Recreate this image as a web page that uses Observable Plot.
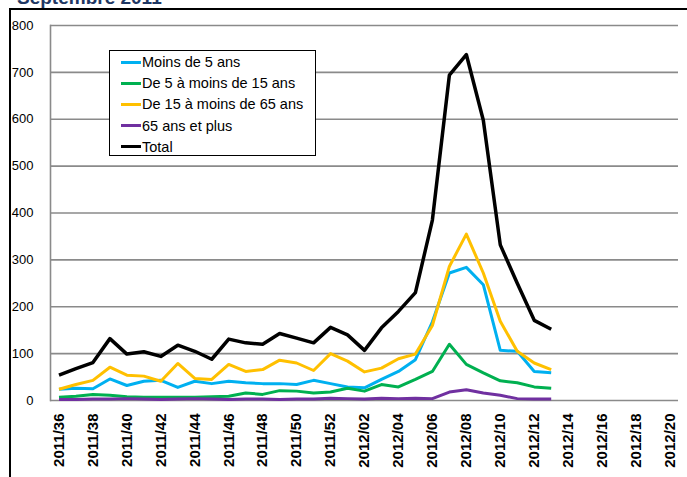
<!DOCTYPE html>
<html>
<head>
<meta charset="utf-8">
<script src="https://cdn.jsdelivr.net/npm/d3@7"></script>
<script src="https://cdn.jsdelivr.net/npm/@observablehq/plot@0.6"></script>
<style>
  html, body { margin: 0; padding: 0; background: #fff; }
  #wrap { position: relative; width: 687px; height: 477px; overflow: hidden; font-family: "Liberation Sans", Arial, sans-serif; }
  #title { position: absolute; left: 17px; top: -12px; font: bold 19px/19px "Liberation Sans", Arial, sans-serif; color: #1F3864; white-space: nowrap; }
  #frame { position: absolute; left: 9px; top: 8px; width: 720px; height: 520px; border-top: 2.5px solid #000; border-left: 2.5px solid #000; }
  #chart { position: absolute; left: 0; top: 0; }
  #legend { position: absolute; left: 109px; top: 50px; width: 207px; height: 106px; border: 1px solid #000; background: #fff; box-sizing: border-box; }
  .item { position: absolute; left: 11px; height: 20px; display: flex; align-items: center; font-size: 14.5px; color: #000; white-space: nowrap; }
  .sw { width: 20px; height: 3px; margin-right: 1px; }
</style>
</head>
<body>
<div id="wrap">
  <div id="title">Septembre 2011</div>
  <div id="frame"></div>
  <div id="chart"></div>
  <div id="legend"></div>
</div>
<script>
const weeks = [
  "2011/36","2011/37","2011/38","2011/39","2011/40","2011/41","2011/42","2011/43","2011/44",
  "2011/45","2011/46","2011/47","2011/48","2011/49","2011/50","2011/51","2011/52",
  "2012/01","2012/02","2012/03","2012/04","2012/05","2012/06","2012/07","2012/08","2012/09",
  "2012/10","2012/11","2012/12","2012/13","2012/14","2012/15","2012/16","2012/17","2012/18",
  "2012/19","2012/20"
];
const tickWeeks = ["2011/36","2011/38","2011/40","2011/42","2011/44","2011/46","2011/48","2011/50","2011/52",
  "2012/02","2012/04","2012/06","2012/08","2012/10","2012/12","2012/14","2012/16","2012/18","2012/20"];
const yTicks = [0, 100, 200, 300, 400, 500, 600, 700, 800];

const seriesNames = ["Moins de 5 ans", "De 5 à moins de 15 ans", "De 15 à moins de 65 ans", "65 ans et plus", "Total"];
const seriesColors = ["#00B0F0", "#00B050", "#FFC000", "#7030A0", "#000000"];

const moins5   = [24,26,25,46,32,41,43,28,41,36,41,38,36,36,34,43,36,29,27,45,62,87,168,272,284,247,107,105,62,59];
const de5a15   = [7,9,13,11,8,7,7,7,7,8,9,16,13,21,20,16,18,26,20,34,29,45,62,120,77,59,42,38,29,26];
const de15a65  = [24,34,43,71,54,52,41,79,47,45,77,62,66,86,80,64,100,84,61,69,89,99,160,286,355,272,169,105,80,66];
const plus65   = [2,2,3,3,4,3,2,3,4,3,2,3,3,2,3,3,5,4,3,5,4,5,4,18,23,16,11,4,3,3];
const total    = [54,68,81,132,99,104,94,118,105,88,131,123,120,143,133,123,156,140,107,155,190,230,385,694,738,598,332,250,171,152];

const allValues = [moins5, de5a15, de15a65, plus65, total];
const rows = [];
allValues.forEach((vals, s) => vals.forEach((v, i) => rows.push({week: weeks[i], value: v, series: seriesNames[s]})));

const lineMarks = seriesNames.map((name, s) =>
  Plot.lineY(rows.filter(d => d.series === name), {
    x: "week", y: "value", stroke: seriesColors[s],
    strokeWidth: name === "Total" ? 3.5 : 3, strokeLinejoin: "round", strokeLinecap: "butt"
  })
);

const chart = Plot.plot({
  width: 687,
  height: 477,
  marginLeft: 50,
  marginRight: 9,
  marginTop: 25,
  marginBottom: 77,
  style: {fontFamily: "'Liberation Sans', Arial, sans-serif", color: "#000", background: "transparent", overflow: "visible"},
  x: {type: "point", domain: weeks, padding: 0.5},
  y: {domain: [0, 800]},
  marks: [
    Plot.ruleY(yTicks, {stroke: "#8a8a8a", strokeWidth: 1.6}),
    Plot.frame({anchor: "left", stroke: "#8a8a8a", strokeWidth: 1.6}),
    Plot.axisY({ticks: yTicks, tickSize: 0, tickPadding: 17, fontSize: 13, label: null}),
    Plot.axisX({ticks: tickWeeks, tickSize: 0, tickPadding: 13, tickRotate: -90, fontSize: 15, fontWeight: "bold", label: null}),
    ...lineMarks
  ]
});
document.getElementById("chart").appendChild(chart);

const legend = document.getElementById("legend");
seriesNames.forEach((name, s) => {
  const it = document.createElement("div");
  it.className = "item";
  it.style.top = (1 + s * 21.2) + "px";
  const sw = document.createElement("span");
  sw.className = "sw";
  sw.style.background = seriesColors[s];
  it.appendChild(sw);
  it.appendChild(document.createTextNode(name));
  legend.appendChild(it);
});
</script>
</body>
</html>
